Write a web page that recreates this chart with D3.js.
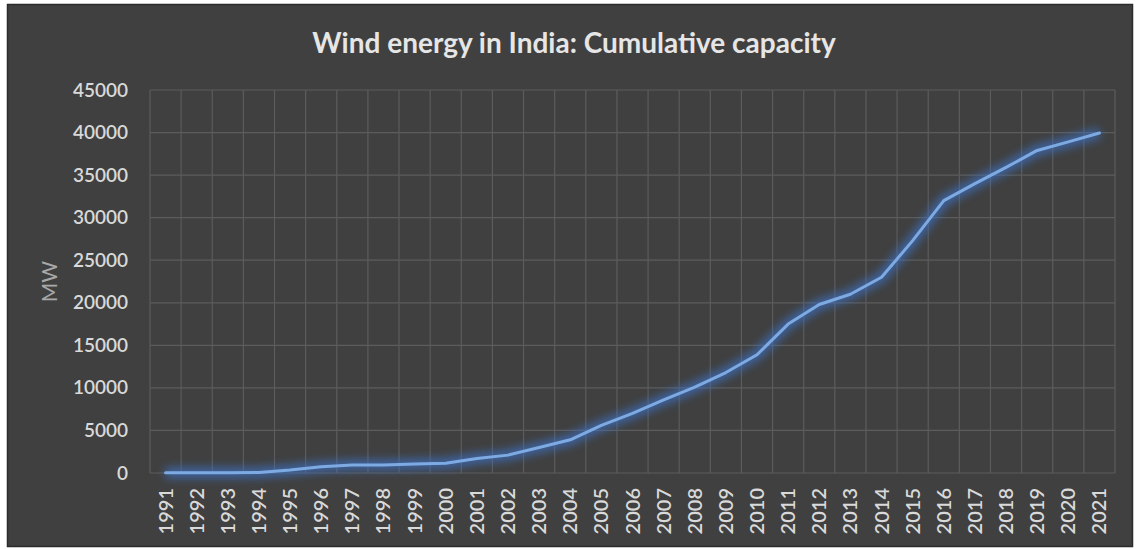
<!DOCTYPE html>
<html>
<head>
<meta charset="utf-8">
<script src="https://cdn.jsdelivr.net/npm/d3@7/dist/d3.min.js"></script>
<style>
  html, body { margin: 0; padding: 0; background: #ffffff; }
  svg { display: block; }
</style>
</head>
<body>
<svg id="chart" width="1137" height="549"></svg>
<script>
// Cumulative installed wind capacity in India, MW
const years = ["1991","1992","1993","1994","1995","1996","1997","1998","1999","2000",
  "2001","2002","2003","2004","2005","2006","2007","2008","2009","2010",
  "2011","2012","2013","2014","2015","2016","2017","2018","2019","2020","2021"];
const capacityMW = [40, 40, 40, 50, 350, 740, 940, 950, 1060, 1140,
  1700, 2100, 3000, 3900, 5600, 7000, 8600, 10100, 11800, 13900,
  17500, 19800, 21000, 23000, 27300, 32000, 34000, 35900, 37900, 38900, 39950];
const yTicks = [0, 5000, 10000, 15000, 20000, 25000, 30000, 35000, 40000, 45000];
const titleText = "Wind energy in India: Cumulative capacity";
const yAxisTitle = "MW";

const plot = { left: 150, right: 1115, top: 90, bottom: 473 };
const svg = d3.select("#chart");
const font = "Lato, 'Open Sans', sans-serif";

// dark chart panel
svg.append("rect")
  .attr("x", 7.5).attr("y", 4.5)
  .attr("width", 1125).attr("height", 542)
  .attr("fill", "#404040")
  .attr("stroke", "#2b2b2b").attr("stroke-width", 1.5);

const x = d3.scaleBand().domain(years).range([plot.left, plot.right]).padding(0);
const y = d3.scaleLinear().domain([0, 45000]).range([plot.bottom, plot.top]);

// gridlines
const grid = svg.append("g").attr("stroke", "#5c5c5c").attr("stroke-width", 1.2);
grid.selectAll("line.h").data(yTicks).join("line")
  .attr("class", "h")
  .attr("x1", plot.left).attr("x2", plot.right)
  .attr("y1", d => y(d)).attr("y2", d => y(d));
const bounds = years.map(d => x(d)).concat([x(years[years.length - 1]) + x.bandwidth()]);
grid.selectAll("line.v").data(bounds).join("line")
  .attr("class", "v")
  .attr("x1", d => d).attr("x2", d => d)
  .attr("y1", plot.top).attr("y2", plot.bottom);

// y axis labels
const yAxis = d3.axisLeft(y).tickValues(yTicks).tickSize(0).tickPadding(22).tickFormat(d3.format("d"));
const gy = svg.append("g").attr("transform", `translate(${plot.left},0)`).call(yAxis);
gy.select(".domain").remove();
gy.selectAll("text")
  .attr("fill", "#d9d9d9")
  .style("font-family", font).style("font-size", "19px").style("font-weight", "600");

// x axis labels, rotated
const xAxis = d3.axisBottom(x).tickSize(0).tickPadding(0);
const gx = svg.append("g").attr("transform", `translate(0,${plot.bottom})`).call(xAxis);
gx.select(".domain").remove();
gx.selectAll("text")
  .attr("fill", "#d9d9d9")
  .style("font-family", font).style("font-size", "20px").style("font-weight", "600")
  .attr("text-anchor", "end")
  .attr("dy", "0.35em")
  .attr("transform", "translate(0,15) rotate(-90)")
  .attr("x", 0).attr("y", 0);

// axis title
svg.append("text")
  .attr("transform", `translate(50,${(plot.top + plot.bottom) / 2}) rotate(-90)`)
  .attr("text-anchor", "middle")
  .attr("dy", "0.35em")
  .attr("fill", "#a8a8a8")
  .style("font-family", font).style("font-size", "21px")
  .text(yAxisTitle);

// chart title
svg.append("text")
  .attr("x", 574).attr("y", 53)
  .attr("text-anchor", "middle")
  .attr("fill", "#e6e6e6")
  .style("font-family", font).style("font-size", "28px").style("font-weight", "bold")
  .text(titleText);

// glowing line
const defs = svg.append("defs");
const glow = defs.append("filter").attr("id", "glow")
  .attr("x", "-10%").attr("y", "-10%").attr("width", "120%").attr("height", "120%");
glow.append("feGaussianBlur").attr("stdDeviation", 4.5);

const pts = years.map((yr, i) => [x(yr) + x.bandwidth() / 2, y(capacityMW[i])]);
const line = d3.line();

svg.append("path")
  .attr("d", line(pts))
  .attr("fill", "none")
  .attr("stroke", "#3a72c8")
  .attr("stroke-width", 11)
  .attr("stroke-opacity", 0.7)
  .attr("stroke-linejoin", "round")
  .attr("filter", "url(#glow)");

svg.append("path")
  .attr("d", line(pts))
  .attr("fill", "none")
  .attr("stroke", "#7eaae3")
  .attr("stroke-width", 3)
  .attr("stroke-linejoin", "round")
  .attr("stroke-linecap", "round");
</script>
</body>
</html>
